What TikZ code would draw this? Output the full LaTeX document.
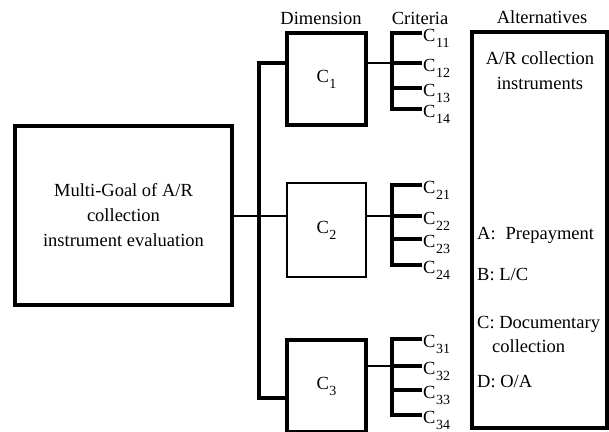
\documentclass[tikz,border=0pt]{standalone}
\usepackage{fontspec}
\setmainfont{Liberation Serif}
\newcommand{\Csub}[1]{C\kern0.5pt\raisebox{-6pt}{\fontsize{14}{14}\selectfont #1}}
\begin{document}
\begin{tikzpicture}[x=1pt,y=-1pt,
  thickline/.style={line width=3.3pt, line cap=rect},
  thinline/.style={line width=2.3pt},
  box/.style={draw, line width=3.2pt, inner sep=0pt},
  txt/.style={font=\fontsize{18.5}{25}\selectfont, inner sep=0pt},
]
\useasboundingbox (0,0) rectangle (609,431);
\clip (0,0) rectangle (609,431);

% titles
\node[txt, anchor=base] (tdim) at (321,24) {Dimension};
\node[txt, anchor=base] (tcrit) at (420,24) {Criteria};
\node[txt, anchor=base] (talt) at (542,23) {Alternatives};

% goal box
\node[box, txt, align=center, minimum width=217pt, minimum height=179pt] (goal) at (123.5,215.5)
  {Multi-Goal of A/R\\collection\\instrument evaluation};

% dimension boxes
\node[box, txt, minimum width=79pt, minimum height=92pt] (c1) at (326.5,79) {\Csub{1}};
\node[box, txt, line width=1.9pt, minimum width=79pt, minimum height=94pt] (c2) at (326.5,230) {\Csub{2}};
\node[box, txt, minimum width=79pt, minimum height=92pt] (c3) at (326.5,386) {\Csub{3}};

% main bus
\coordinate (bt) at (259,63);
\coordinate (bm) at (259,216);
\coordinate (bb) at (259,398);
\draw[line width=3.8pt] (c1.west |- bt) -- (bt) -- (bb) -- (c3.west |- bb);
\draw[thinline] (goal.east |- bm) -- (c2.west |- bm);

% criteria
\foreach \d/\ky/\ya/\yb/\yc/\yd in {1/63/33/63/88/109, 2/216/185/216/239/265, 3/366/339/366/390/415} {
  \coordinate (k\d) at (392,\ky);
  \draw[thinline] (c\d.east |- k\d) -- (k\d);
  \foreach \j/\y in {1/\ya,2/\yb,3/\yc,4/\yd} {
    \coordinate (e\d\j) at (420,\y);
    \node[txt, anchor=base west] (l\d\j) at (423,\y+8) {\Csub{\d\j}};
    \draw[thickline] (k\d |- e\d\j) -- (e\d\j);
  }
  \draw[thickline] (k\d |- e\d1) -- (k\d |- e\d4);
}

% alternatives box
\node[box, minimum width=135pt, minimum height=396pt] (alt) at (539.5,230) {};
\node[txt, anchor=base] (a1) at (540,64) {A/R collection};
\node[txt, anchor=base] (a2) at (540,89) {instruments};
\node[txt, anchor=base west] (a3) at (477,239) {A:\hspace{10pt}Prepayment};
\node[txt, anchor=base west] (a4) at (477,280) {B: L/C};
\node[txt, anchor=base west] (a5) at (477,328) {C: Documentary};
\node[txt, anchor=base west] (a6) at (492,352) {collection};
\node[txt, anchor=base west] (a7) at (477,387) {D: O/A};
\end{tikzpicture}
\end{document}
